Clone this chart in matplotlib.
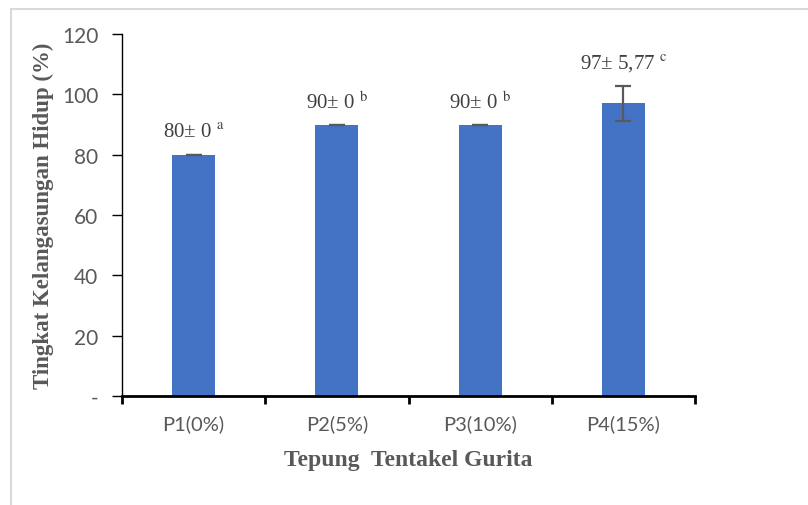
import matplotlib
matplotlib.use("Agg")
import matplotlib.pyplot as plt
from matplotlib.lines import Line2D
import numpy as np

# data
categories = ["P1(0%)", "P2(5%)", "P3(10%)", "P4(15%)"]
means = [80, 90, 90, 97]
sds = [0, 0, 0, 5.77]
notes = ["80\u00b1 0", "90\u00b1 0", "90\u00b1 0", "97\u00b1 5,77"]
letters = ["a", "b", "b", "c"]
yticks = [0, 20, 40, 60, 80, 100, 120]
ytick_labels = ["-", "20", "40", "60", "80", "100", "120"]

fig = plt.figure(figsize=(8.08, 5.06), dpi=100)
ax = fig.add_axes([122 / 808, 1 - 397 / 506, (695 - 122) / 808, (397 - 35) / 506])

x = np.arange(len(categories))
ax.bar(x, means, width=0.3, color="#4472C4", zorder=2)
ax.errorbar(x, means, yerr=sds, fmt="none", ecolor="#595959",
            elinewidth=1.6, capsize=6, capthick=1.6, zorder=3)

serif = "Liberation Serif"
for xi, m, s, t, l in zip(x, means, sds, notes, letters):
    ax.annotate(t + " $^{\\mathrm{" + l + "}}$", (xi, m + s), xytext=(0, 16),
                textcoords="offset points", ha="center", va="center",
                fontsize=15, color="#404040", family=serif,
                math_fontfamily="stix")

ax.set_xlim(-0.5, 3.5)
ax.set_ylim(0, 120)
ax.set_yticks(yticks)
ax.set_yticklabels(ytick_labels)
ax.set_xticks(x)
ax.set_xticklabels(categories)
ax.set_xticks(np.arange(-0.5, 4.0, 1.0), minor=True)

ax.tick_params(axis="x", which="major", length=0, pad=13, labelsize=14.5,
               labelcolor="#595959")
ax.tick_params(axis="x", which="minor", length=6, width=2, color="black",
               direction="out")
ax.tick_params(axis="y", length=7, width=1, color="black", direction="out",
               labelsize=15, labelcolor="#595959", pad=10)
for lab in ax.get_xticklabels() + ax.get_yticklabels():
    lab.set_family("Lato")

for sp in ["top", "right"]:
    ax.spines[sp].set_visible(False)
ax.spines["left"].set_linewidth(1)
ax.spines["bottom"].set_linewidth(2)

ax.set_ylabel("Tingkat Kelangasungan Hidup (%)", family=serif,
              fontweight="bold", fontsize=16.5, color="#595959", labelpad=6)
ax.set_xlabel("Tepung  Tentakel Gurita", family=serif, fontweight="bold",
              fontsize=17, color="#595959", labelpad=12)

# light border around the chart area
fig.add_artist(Line2D([11 / 808, 1], [1 - 10 / 506] * 2,
                      transform=fig.transFigure, color="#d9d9d9", lw=1.5))
fig.add_artist(Line2D([11 / 808] * 2, [0, 1 - 10 / 506],
                      transform=fig.transFigure, color="#d9d9d9", lw=1.5))

fig.savefig("out.png", dpi=100)
